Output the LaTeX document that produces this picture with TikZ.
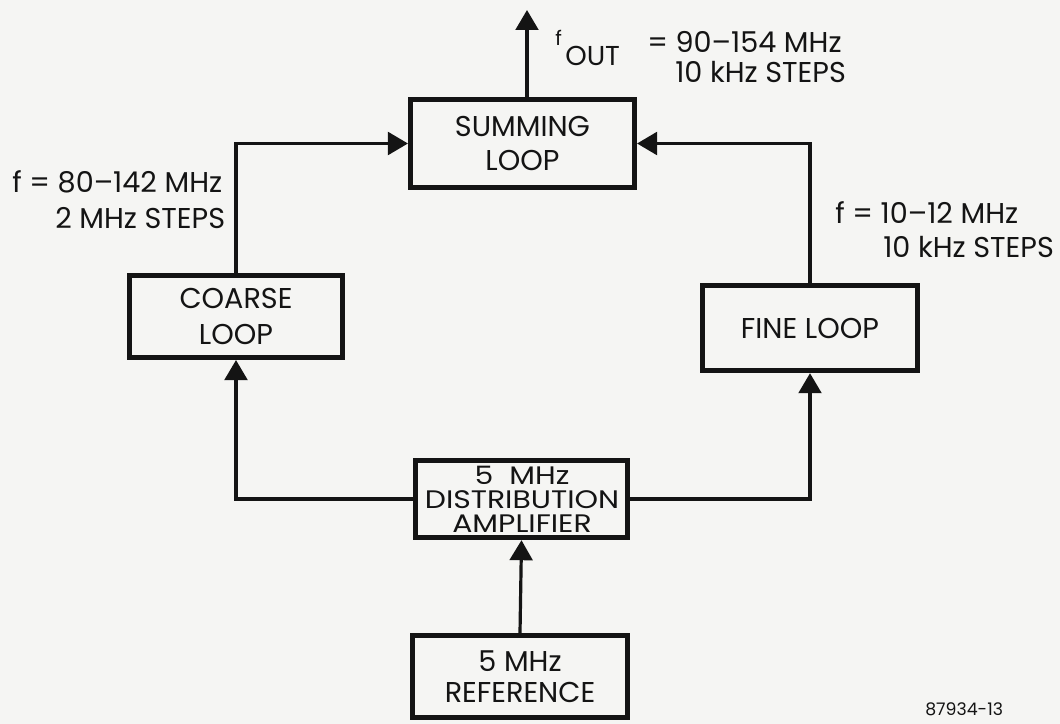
\documentclass[tikz,border=0pt]{standalone}
\usepackage{fontspec}
\setmainfont{Poppins}
\newfontfamily\widefont[FakeStretch=1.18]{Poppins}
\usetikzlibrary{arrows.meta}
\definecolor{bg}{RGB}{245,245,243}
\definecolor{ink}{RGB}{20,20,20}
\begin{document}
\begin{tikzpicture}[x=0.75pt,y=-0.75pt,
  box/.style={draw=ink, text=ink, line width=3.8pt, rectangle, inner sep=0pt, align=center},
  conn/.style={draw=ink, line width=2.4pt, -{Triangle[length=15pt,width=17pt]}},
  lbl/.style={anchor=base west, inner sep=0pt, text=ink, font=\fontsize{21.5pt}{26pt}\selectfont}]
\useasboundingbox[fill=bg] (0,0) rectangle (1060,724);

\node[box, minimum width=168pt, minimum height=66pt, font=\fontsize{21.5pt}{26pt}\selectfont] (sum) at (522.5,143.5) {SUMMING\\LOOP};
\node[box, minimum width=160pt, minimum height=61.5pt, font=\fontsize{21.5pt}{27pt}\selectfont] (coarse) at (236,316.5) {COARSE\\LOOP};
\node[box, minimum width=161pt, minimum height=64pt, font=\fontsize{21.5pt}{26pt}\selectfont] (fine) at (810,328) {FINE LOOP};
\node[box, minimum width=159pt, minimum height=58pt] (dist) at (521.5,499) {};
\node[text=ink, align=center, inner sep=0pt, font=\widefont\fontsize{19pt}{18pt}\selectfont] (disttext) at (522,499) {5\ \ MHz\\DISTRIBUTION\\AMPLIFIER};
\node[box, minimum width=161pt, minimum height=61.5pt, font=\fontsize{21.5pt}{23pt}\selectfont] (ref) at (520,676.5) {5 MHz\\REFERENCE};

\coordinate (outtip) at (527,10);
\draw[conn] (outtip |- sum.north) -- (outtip);
\draw[conn] (coarse.north) |- (sum.west);
\draw[conn] (fine.north) |- (sum.east);
\draw[conn] (dist.west) -| (coarse.south);
\draw[conn] (dist.east) -| (fine.south);
\draw[conn] (ref.north) -- (dist.south);

\node[lbl, font=\fontsize{15pt}{17pt}\selectfont] (fsym) at (555,46) {f};
\node[lbl, font=\fontsize{20.5pt}{24pt}\selectfont] (fout) at (565,66) {OUT};
\node[lbl] (outa) at (647,53) {= 90–154 MHz};
\node[lbl] (outb) at (675,83) {10 kHz STEPS};

\node[lbl] (ca) at (12,192) {f = 80–142 MHz};
\node[lbl] (cb) at (55,228) {2 MHz STEPS};

\node[lbl] (fa) at (835,223) {f = 10–12 MHz};
\node[lbl] (fb) at (883,257) {10 kHz STEPS};

\node[lbl, font=\fontsize{13pt}{15pt}\selectfont] (figno) at (925,715) {87934-13};
\end{tikzpicture}
\end{document}
